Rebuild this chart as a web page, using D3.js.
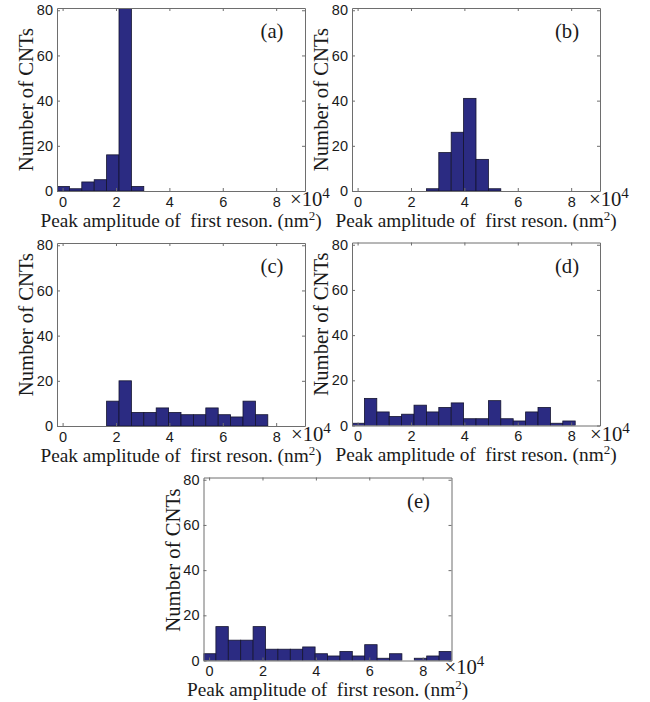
<!DOCTYPE html>
<html>
<head>
<meta charset="utf-8">
<script src="https://cdn.jsdelivr.net/npm/d3@7"></script>
<style>
  body { margin: 0; background: #fff; }
  .axis text { font-family: "Liberation Sans", Arial, sans-serif; font-size: 14.5px; fill: #1a1a1a; }
  .axis path, .axis line { stroke: #6e6e6e; }
  .label { font-family: "Liberation Serif", "Times New Roman", serif; font-size: 20.7px; fill: #1a1a1a; white-space: pre; }
  .xlabel { font-size: 19.3px; }
</style>
</head>
<body>
<svg id="chart" width="650" height="702"></svg>
<script>
// histogram bins: 20 equal bins, first left edge and width in units of 1e4 nm^2
const binStart = -0.21;
const binWidth = 0.4645;
const xTicks = [0, 2, 4, 6, 8];
const yTicks = [0, 20, 40, 60, 80];

const countsA = [2, 1, 4, 5, 16, 90, 2, 0, 0, 0, 0, 0, 0, 0, 0, 0, 0, 0, 0, 0];
const countsB = [0, 0, 0, 0, 0, 0, 1, 17, 26, 41, 14, 1, 0, 0, 0, 0, 0, 0, 0, 0];
const countsC = [0, 0, 0, 0, 11, 20, 6, 6, 8, 6, 5, 5, 8, 5, 4, 11, 5, 0, 0, 0];
const countsD = [1, 12, 6, 4, 5, 9, 6, 8, 10, 3, 3, 11, 3, 2, 6, 8, 1, 2, 0, 0];
const countsE = [3, 15, 9, 9, 15, 5, 5, 5, 6, 3, 2, 4, 2, 7, 1, 3, 0, 1, 2, 4];

const panelNames = ["(a)", "(b)", "(c)", "(d)", "(e)"];
const xLabel = "Peak amplitude of  first reson. (nm";
const yLabel = "Number of CNTs";

const W = 248, H = 183;

// plot box positions on the page
const layout = [
  {left: 57, top: 8, yShift: 0, multX: 15, multY: 15},
  {left: 352, top: 8, yShift: 0, multX: 11, multY: 15},
  {left: 57, top: 243, yShift: -10, multX: 14, multY: 15},
  {left: 352, top: 242.5, yShift: -10, multX: 10, multY: 15},
  {left: 203.5, top: 477.5, yShift: -9, multX: 7, multY: 13}
];

const svg = d3.select("#chart");

function drawPanel(counts, name, pos, idx) {
  const x = d3.scaleLinear().domain([binStart, binStart + 20 * binWidth]).range([0, W]);
  const y = d3.scaleLinear().domain([0, 81]).range([H, 0]);

  const g = svg.append("g").attr("transform", `translate(${pos.left},${pos.top})`);

  g.append("clipPath").attr("id", "clip" + idx)
    .append("rect").attr("width", W).attr("height", H);

  const bins = counts
    .map((c, i) => ({x0: binStart + i * binWidth, x1: binStart + (i + 1) * binWidth, count: c}))
    .filter(d => d.count > 0);

  g.append("g")
    .attr("clip-path", `url(#clip${idx})`)
    .selectAll("rect")
    .data(bins)
    .join("rect")
    .attr("x", d => x(d.x0))
    .attr("width", d => x(d.x1) - x(d.x0))
    .attr("y", d => y(d.count))
    .attr("height", d => y(0) - y(d.count))
    .attr("fill", "#2b2b82")
    .attr("stroke", "#151530")
    .attr("stroke-width", 0.8);

  g.append("g").attr("class", "axis")
    .attr("transform", `translate(0,${H})`)
    .call(d3.axisBottom(x).tickValues(xTicks).tickSizeInner(-3).tickSizeOuter(0).tickPadding(5.5));

  g.append("g").attr("class", "axis")
    .call(d3.axisLeft(y).tickValues(yTicks).tickSizeInner(-3).tickSizeOuter(0).tickPadding(4));

  g.append("g").attr("class", "axis")
    .call(d3.axisTop(x).tickValues(xTicks).tickSizeInner(-3).tickSizeOuter(0).tickFormat(""));

  g.append("g").attr("class", "axis")
    .attr("transform", `translate(${W},0)`)
    .call(d3.axisRight(y).tickValues(yTicks).tickSizeInner(-3).tickSizeOuter(0).tickFormat(""));

  // x10^4 multiplier
  const mult = g.append("text")
    .attr("class", "label")
    .attr("x", W - pos.multX)
    .attr("y", H + pos.multY);
  mult.append("tspan").text("×10");
  mult.append("tspan").attr("dy", -8).style("font-size", "15px").text("4");

  // x label
  const xl = g.append("text")
    .attr("class", "label xlabel")
    .attr("text-anchor", "middle")
    .attr("x", W / 2)
    .attr("y", H + 35.5);
  xl.append("tspan").text(xLabel);
  xl.append("tspan").attr("dy", -7).style("font-size", "13px").text("2");
  xl.append("tspan").attr("dy", 7).text(")");

  // y label
  g.append("text")
    .attr("class", "label")
    .attr("text-anchor", "middle")
    .attr("transform", "rotate(-90)")
    .attr("x", -H / 2 - pos.yShift)
    .attr("y", -24)
    .text(yLabel);

  // panel letter
  g.append("text")
    .attr("class", "label")
    .attr("text-anchor", "middle")
    .attr("x", W - 33)
    .attr("y", 30)
    .text(name);
}

const allCounts = [countsA, countsB, countsC, countsD, countsE];
allCounts.forEach((c, i) => drawPanel(c, panelNames[i], layout[i], i));
</script>
</body>
</html>
